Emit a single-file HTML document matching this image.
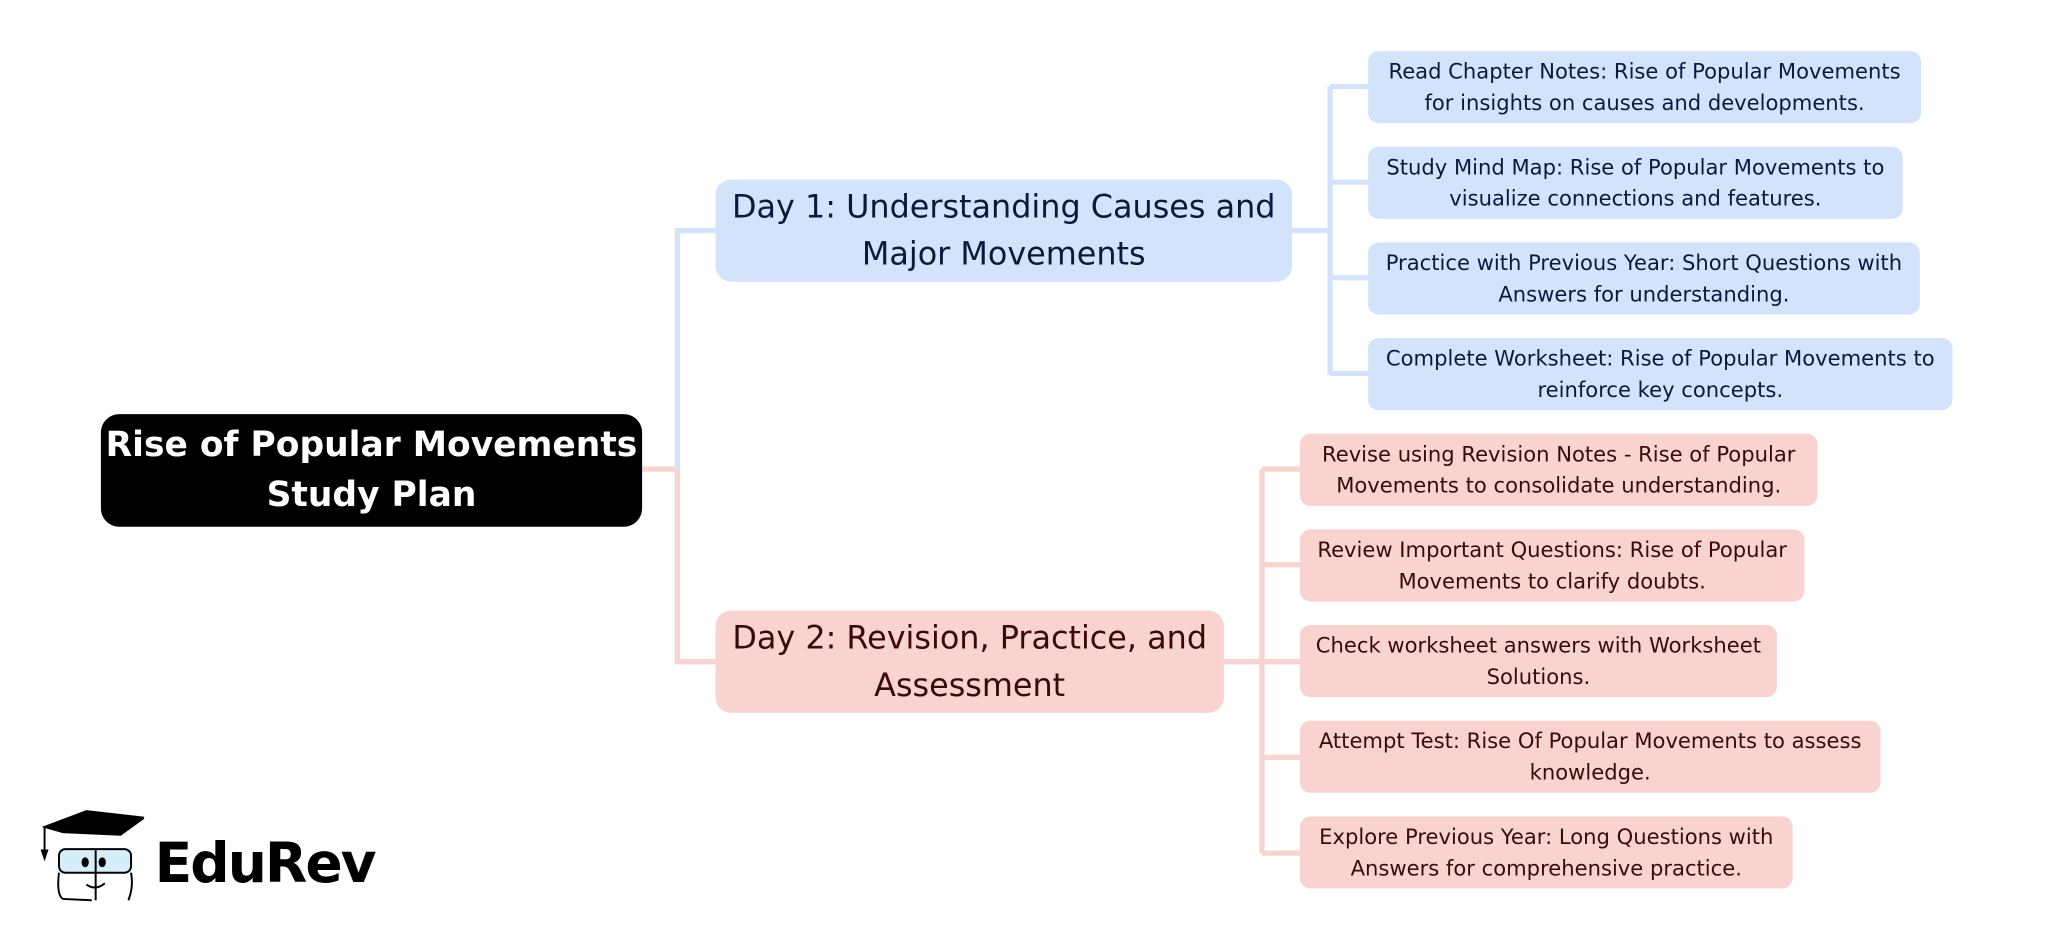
<!DOCTYPE html>
<html><head><meta charset="utf-8"><style>
html,body{margin:0;padding:0;background:#fff;width:2054px;height:940px;overflow:hidden}
#c{position:absolute;left:0;top:0;width:1570px;height:718px;transform:scale(1.3104);transform-origin:0 0;font-family:"DejaVu Sans","Liberation Sans",sans-serif}
.n{position:absolute;box-sizing:border-box;display:flex;align-items:center;justify-content:center;text-align:center;border-radius:8px;white-space:nowrap}
.b{background:#d3e3fc;color:#0a1a3a}
.p{background:#f8d3d0;color:#3a0a0a}
.s{font-size:16.1px;line-height:24px}
.m{font-size:24.3px;line-height:36px;border-radius:12px}
</style></head><body><div id="c">
<svg width="1570" height="718" style="position:absolute;left:0;top:0" fill="none" stroke-width="4">
<g stroke="#f8d3d0"><path d="M490 358H517V505H546"/><path d="M934 505H963M963 358V651M963 358H992M963 431H992M963 505H992M963 578H992M963 651H992"/></g>
<g stroke="#d3e3fc"><path d="M517 358V176H546"/><path d="M986 176H1015M1015 66V286M1015 66H1044M1015 139H1044M1015 212H1044M1015 285H1044"/></g>
</svg>
<div class="n" style="left:77px;top:316px;width:413px;height:86px;background:#000;color:#fff;font-weight:bold;font-size:26.3px;line-height:38px;border-radius:14px">Rise of Popular Movements<br>Study Plan</div>
<div class="n b m" style="left:546px;top:137px;width:440px;height:78px">Day 1: Understanding Causes and<br>Major Movements</div>
<div class="n p m" style="left:546px;top:466px;width:388px;height:78px">Day 2: Revision, Practice, and<br>Assessment</div>
<div class="n b s" style="left:1044px;top:39px;width:422px;height:55px">Read Chapter Notes: Rise of Popular Movements<br>for insights on causes and developments.</div>
<div class="n b s" style="left:1044px;top:112px;width:408px;height:55px">Study Mind Map: Rise of Popular Movements to<br>visualize connections and features.</div>
<div class="n b s" style="left:1044px;top:185px;width:421px;height:55px">Practice with Previous Year: Short Questions with<br>Answers for understanding.</div>
<div class="n b s" style="left:1044px;top:258px;width:446px;height:55px">Complete Worksheet: Rise of Popular Movements to<br>reinforce key concepts.</div>
<div class="n p s" style="left:992px;top:331px;width:395px;height:55px">Revise using Revision Notes - Rise of Popular<br>Movements to consolidate understanding.</div>
<div class="n p s" style="left:992px;top:404px;width:385px;height:55px">Review Important Questions: Rise of Popular<br>Movements to clarify doubts.</div>
<div class="n p s" style="left:992px;top:477px;width:364px;height:55px">Check worksheet answers with Worksheet<br>Solutions.</div>
<div class="n p s" style="left:992px;top:550px;width:443px;height:55px">Attempt Test: Rise Of Popular Movements to assess<br>knowledge.</div>
<div class="n p s" style="left:992px;top:623px;width:376px;height:55px">Explore Previous Year: Long Questions with<br>Answers for comprehensive practice.</div>
<svg width="80" height="72" style="position:absolute;left:30px;top:617px" fill="none" stroke="#000" stroke-width="1.5">
<path d="M4 14L36 2L80 7L62 20L18 18Z" fill="#000"/><path d="M4 14V32"/><path d="M2 32L4 38L6 32Z" fill="#000"/>
<rect x="15" y="31" width="55" height="18" rx="5" fill="#d6eefa"/><path d="M43 31V70"/><path d="M15 49Q13 66 18 69L40 70M70 49Q72 60 68 70"/>
<ellipse cx="35" cy="41" rx="2" ry="3" fill="#000"/><ellipse cx="48" cy="41" rx="2" ry="3" fill="#000"/><path d="M36 58Q43 63 50 57"/>
</svg>
<div style="position:absolute;left:118px;top:632px;font-family:'DejaVu Sans','Liberation Sans',sans-serif;font-weight:bold;font-size:42px;line-height:54px;color:#000;letter-spacing:-1.5px">EduRev</div>
</div></body></html>
